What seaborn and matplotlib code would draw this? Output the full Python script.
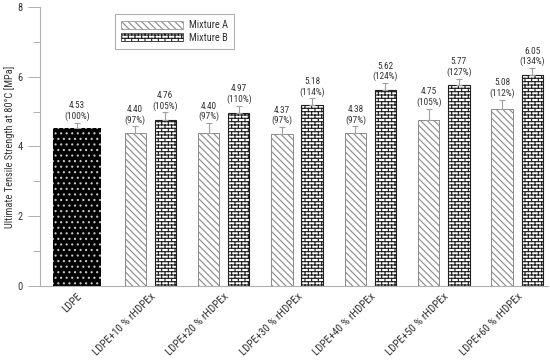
import warnings
import numpy as np
import pandas as pd
import matplotlib
matplotlib.use('Agg')
import matplotlib.pyplot as plt
import matplotlib.patches as mpatches
from matplotlib import hatch as mhatch
from matplotlib.path import Path
from matplotlib.ticker import MultipleLocator
import seaborn as sns

warnings.filterwarnings('ignore')

# samples on the x axis
labels = ['LDPE', 'LDPE+10 % rHDPEx', 'LDPE+20 % rHDPEx', 'LDPE+30 % rHDPEx',
          'LDPE+40 % rHDPEx', 'LDPE+50 % rHDPEx', 'LDPE+60 % rHDPEx']

# reference LDPE
ldpe_val = 4.53
ldpe_err = 0.15
ldpe_pct = 100

# mixtures
mix_a = [4.40, 4.40, 4.37, 4.38, 4.75, 5.08]
mix_a_err = [0.18, 0.27, 0.19, 0.20, 0.33, 0.26]
mix_a_pct = [97, 97, 97, 97, 105, 112]

mix_b = [4.76, 4.97, 5.18, 5.62, 5.77, 6.05]
mix_b_err = [0.22, 0.20, 0.20, 0.20, 0.17, 0.20]
mix_b_pct = [105, 110, 114, 124, 127, 134]

hatch_a = '\\' * 5
hatch_b = 'bbbbb'


# brick hatch ('b'), matplotlib has no such pattern built in
class BrickHatch(mhatch.HatchPatternBase):
    def __init__(self, hatch, density):
        self.num_rows = hatch.count('b') * density
        self.num_cols = self.num_rows // 2
        self.num_vertices = (self.num_rows + (self.num_rows + 1) * self.num_cols) * 2

    def set_vertices_and_codes(self, vertices, codes):
        n, m = self.num_rows, self.num_cols
        h = 1.0 / n
        w = 1.0 / m
        segs = []
        for i in range(n):
            y = (i + 0.5) * h
            segs.append(((0.0, y), (1.0, y)))
        for i in range(-1, n):
            y0 = max((i + 0.5) * h, 0.0)
            y1 = min((i + 1.5) * h, 1.0)
            off = w / 4 if i % 2 == 0 else 3 * w / 4
            for j in range(m):
                x = j * w + off
                segs.append(((x, y0), (x, y1)))
        vertices[:] = np.array(segs).reshape(-1, 2)
        codes[0::2] = Path.MOVETO
        codes[1::2] = Path.LINETO


mhatch._hatch_types.append(BrickHatch)

sns.set_style('ticks')
plt.rcParams['font.family'] = ['Roboto Condensed', 'Archivo Narrow', 'Liberation Sans', 'DejaVu Sans']
plt.rcParams['hatch.linewidth'] = 0.8

df = pd.DataFrame({
    'sample': labels[1:] * 2,
    'mixture': ['Mixture A'] * 6 + ['Mixture B'] * 6,
    'value': mix_a + mix_b,
})

fig = plt.figure(figsize=(5.5, 3.62), dpi=100)
ax = fig.add_axes([0.0727, 0.211, 0.9236, 0.769])

sns.barplot(data=df, x='sample', y='value', hue='mixture', order=labels,
            hue_order=['Mixture A', 'Mixture B'], palette=['white', 'white'],
            width=0.82, gap=0.29, errorbar=None, legend=False, ax=ax)

cont_a, cont_b = ax.containers[0], ax.containers[1]
for p in cont_a:
    p.set_hatch(hatch_a)
    p.set_edgecolor('#8a8a8a')
    p.set_linewidth(0.7)
for p in cont_b:
    p.set_hatch(hatch_b)
    p.set_edgecolor('#1e1e1e')
    p.set_linewidth(0.8)

# LDPE bar: black with white dots
ax.bar(0, ldpe_val, width=0.65, color='black', edgecolor='#c8c8c8', linewidth=0, hatch='...')

xa = [p.get_x() + p.get_width() / 2 for p in cont_a]
xb = [p.get_x() + p.get_width() / 2 for p in cont_b]

xs = [0] + xa + xb
ys = [ldpe_val] + mix_a + mix_b
es = [ldpe_err] + mix_a_err + mix_b_err
pcts = [ldpe_pct] + mix_a_pct + mix_b_pct

ax.errorbar(xs, ys, yerr=[np.zeros(len(es)), es], fmt='none', ecolor='#a0a0a0',
            elinewidth=0.8, capsize=2.5, capthick=0.8, zorder=3)

for x, y, e, pc in zip(xs, ys, es, pcts):
    ax.text(x, y + e + 0.05, f'{y:.2f}\n({pc}%)', ha='center', va='bottom',
            fontsize=6.7, color='#333333', linespacing=1.15)

ax.set_ylim(0, 8)
ax.set_xlim(-0.504, 6.42)
ax.yaxis.set_major_locator(MultipleLocator(2))
ax.yaxis.set_minor_locator(MultipleLocator(1))
ax.tick_params(axis='y', which='major', length=8.5, width=0.7, color='#b0b0b0',
               labelsize=7.5, labelcolor='#333333', pad=4)
ax.tick_params(axis='y', which='minor', length=5, width=0.7, color='#b0b0b0')
ax.tick_params(axis='x', length=0, labelsize=7.8, labelcolor='#333333', pad=4)
ax.set_xticks(range(len(labels)))
ax.set_xticklabels(labels, rotation=45, ha='right', rotation_mode='anchor')

sns.despine(ax=ax)
for s in ['left', 'bottom']:
    ax.spines[s].set_color('#b0b0b0')
    ax.spines[s].set_linewidth(0.8)

ax.set_xlabel('')
ax.set_ylabel('Ultimate Tensile Strength at 80°C [MPa]', fontsize=7.5, color='#333333', labelpad=2)

handles = [mpatches.Patch(facecolor='white', edgecolor='#8a8a8a', hatch=hatch_a, linewidth=0.5, label='Mixture A'),
           mpatches.Patch(facecolor='white', edgecolor='#1e1e1e', hatch=hatch_b, linewidth=0.5, label='Mixture B')]
leg = ax.legend(handles=handles, loc='upper left', bbox_to_anchor=(0.148, 0.975),
                fontsize=7.5, handlelength=5.9, handleheight=0.9, frameon=True,
                fancybox=False, framealpha=1, edgecolor='#b0b0b0', borderpad=0.6,
                labelspacing=0.2, handletextpad=0.6, borderaxespad=0)
leg.get_frame().set_linewidth(0.8)
for t in leg.get_texts():
    t.set_color('#333333')

fig.savefig('out.png', dpi=100)
